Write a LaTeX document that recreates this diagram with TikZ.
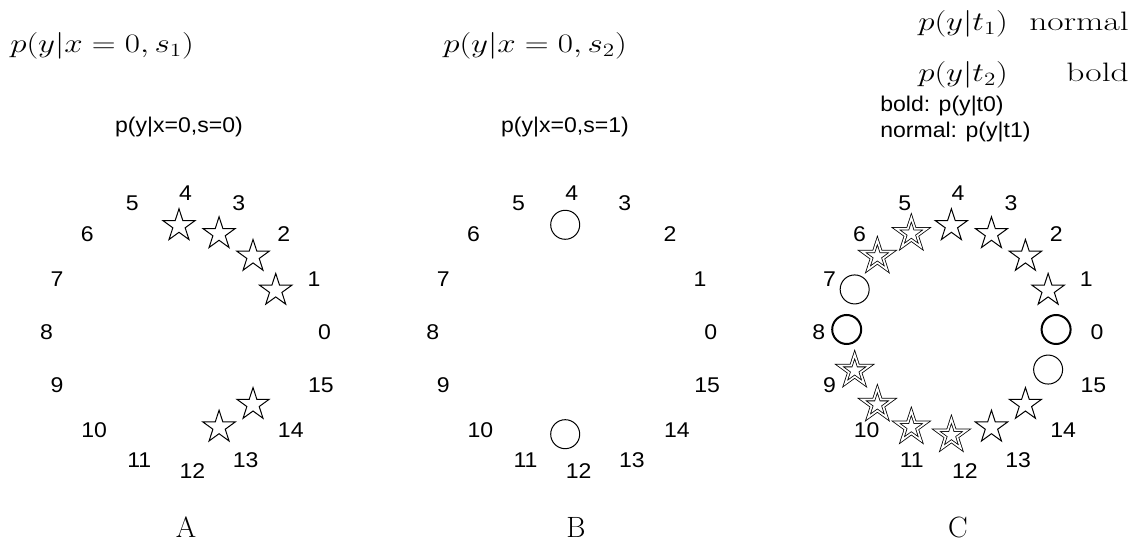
\RequirePackage{fix-cm}
\documentclass[tikz,border=0pt]{standalone}
\usepackage{fontspec}
\newfontfamily\hel[FakeStretch=1.08]{Liberation Sans}
\usetikzlibrary{shapes.geometric}
\newcommand{\wmath}[1]{\scalebox{1.24}[1]{$#1$}}
\newcommand{\wtext}[1]{\scalebox{1.33}[1]{#1}}
\tikzset{
  lab/.style={font=\hel\fontsize{16}{19}\selectfont, inner sep=0pt},
  ttl/.style={font=\hel\fontsize{16}{19}\selectfont, inner sep=0pt},
  mth/.style={font=\fontsize{20}{24}\selectfont, inner sep=0pt},
  big/.style={font=\fontsize{22}{26}\selectfont, inner sep=0pt},
  starmark/.style={star, star points=5, star point ratio=2.618, minimum size=25.5pt, inner sep=0pt, draw, line width=0.75pt},
  dstar/.style={starmark, minimum size=24pt, line width=0.6pt, double=white, double distance=1.3pt},
  circmark/.style={circle, minimum size=21.75pt, inner sep=0pt, draw, line width=0.75pt},
  bcirc/.style={circmark, line width=1.5pt}
}
\begin{document}
\begin{tikzpicture}[x=0.75pt,y=-0.75pt]
\useasboundingbox (0,0) rectangle (1140,548);
% math headings
\node[mth, anchor=base west] (hA) at (10,53) {\wmath{p(y|x=0,s_1)}};
\node[mth, anchor=base west] (hB) at (443,53) {\wmath{p(y|x=0,s_2)}};
\node[mth, anchor=base west] (t1) at (918,31) {\wmath{p(y|t_1)}};
\node[mth, anchor=base east] (nrm) at (1129,31) {\wtext{normal}};
\node[mth, anchor=base west] (t2) at (918,82) {\wmath{p(y|t_2)}};
\node[mth, anchor=base east] (bld) at (1129,82) {\wtext{bold}};
% sans titles
\node[ttl, anchor=base] (sA) at (179,133) {p(y|x=0,s=0)};
\node[ttl, anchor=base] (sB) at (565,133) {p(y|x=0,s=1)};
\node[ttl, anchor=base west] (sC1) at (880,112) {bold: p(y|t0)};
\node[ttl, anchor=base west] (sC2) at (880,138) {normal: p(y|t1)};
% number labels
\foreach \p/\cx in {A/185.5, B/571.7, C/957.9}{
  \foreach \i in {0,...,9}{
    \node[lab] (\p-l\i) at ({\cx+139*cos(\i*22.5)},{332-139*sin(\i*22.5)}) {\i};
  }
  \foreach \i in {10,...,15}{
    \node[lab] (\p-l\i) at ({\cx+7+139*cos(\i*22.5)},{332-139*sin(\i*22.5)}) {\i};
  }
}
% markers panel A
\foreach \i in {1,2,3,4,13,14}{
  \node[starmark] (A-m\i) at ({179+104.7*cos(\i*22.5)},{330.5-104.7*sin(\i*22.5)}) {};
}
% markers panel B
\foreach \i in {4,12}{
  \node[circmark] (B-m\i) at ({565.2+104.7*cos(\i*22.5)},{329.5-104.7*sin(\i*22.5)}) {};
}
% markers panel C
\foreach \i/\s in {1/starmark,2/starmark,3/starmark,4/starmark,5/dstar,6/dstar,9/dstar,10/dstar,11/dstar,12/dstar,13/starmark,14/starmark}{
  \node[\s] (C-m\i) at ({951.4+104.7*cos(\i*22.5)},{330.5-104.7*sin(\i*22.5)}) {};
}
\foreach \i/\s in {0/bcirc,7/circmark,8/bcirc,15/circmark}{
  \node[\s] (C-m\i) at ({951.4+104.7*cos(\i*22.5)},{329.5-104.7*sin(\i*22.5)}) {};
}
% panel letters
\node[big] (lA) at (186,527.5) {A};
\node[big] (lB) at (576,527.5) {B};
\node[big] (lC) at (958,527.5) {C};
\end{tikzpicture}
\end{document}
